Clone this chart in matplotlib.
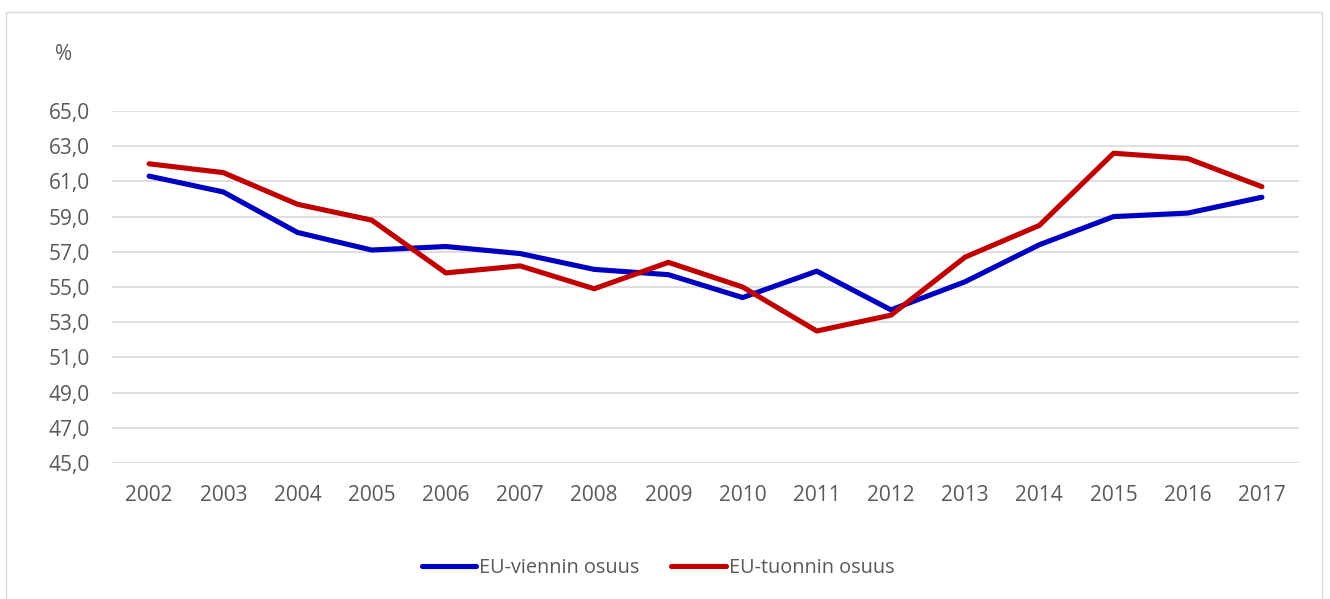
import matplotlib
matplotlib.use("Agg")
import matplotlib.pyplot as plt
from matplotlib.patches import Rectangle

years = ["2002", "2003", "2004", "2005", "2006", "2007", "2008", "2009",
         "2010", "2011", "2012", "2013", "2014", "2015", "2016", "2017"]
vienti = [61.3, 60.4, 58.1, 57.1, 57.3, 56.9, 56.0, 55.7,
          54.4, 55.9, 53.7, 55.3, 57.4, 59.0, 59.2, 60.1]
tuonti = [62.0, 61.5, 59.7, 58.8, 55.8, 56.2, 54.9, 56.4,
          55.0, 52.5, 53.4, 56.7, 58.5, 62.6, 62.3, 60.7]
yticks = [45, 47, 49, 51, 53, 55, 57, 59, 61, 63, 65]
labels = ["EU-viennin osuus", "EU-tuonnin osuus"]

plt.rcParams['font.family'] = ['Open Sans', 'DejaVu Sans']
txt = '#595959'
fs = 15

fig = plt.figure(figsize=(13.30, 5.99), dpi=100)
fig.patches.append(Rectangle((6/1330, -0.01), 1316/1330, 1 - 12/599 + 0.01,
                             transform=fig.transFigure, fill=False,
                             edgecolor='#d9d9d9', linewidth=1))
ax = fig.add_axes([112/1330, 1 - 463/599, (1299 - 112)/1330, (463 - 111)/599])

x = list(range(len(years)))
ax.plot(x, vienti, color='#0000C0', linewidth=3.7, label=labels[0],
        solid_capstyle='round', solid_joinstyle='round', zorder=3)
ax.plot(x, tuonti, color='#C00000', linewidth=3.7, label=labels[1],
        solid_capstyle='round', solid_joinstyle='round', zorder=3)

ax.set_xlim(-0.5, len(years) - 0.5)
ax.set_ylim(45, 65)
ax.set_yticks(yticks)
ax.set_yticklabels([f"{v:.1f}".replace('.', ',') for v in yticks])
ax.set_xticks(x)
ax.set_xticklabels(years)
ax.grid(axis='y', color='#d9d9d9', linewidth=1.2)
ax.set_axisbelow(True)
for s in ax.spines.values():
    s.set_visible(False)
ax.tick_params(axis='both', length=0, labelsize=fs, colors=txt)
ax.tick_params(axis='y', pad=16)
ax.tick_params(axis='x', pad=16)

fig.text(64/1330, 1 - 54/599, '%', fontsize=fs, color=txt, ha='center', va='center')

leg = fig.legend(loc='center', bbox_to_anchor=(658/1330, 1 - 568/599), ncol=2,
                 frameon=False, fontsize=14.3, handlelength=2.75, handletextpad=0.15,
                 columnspacing=1.6, labelcolor=txt)

fig.savefig('out.png', dpi=100)
